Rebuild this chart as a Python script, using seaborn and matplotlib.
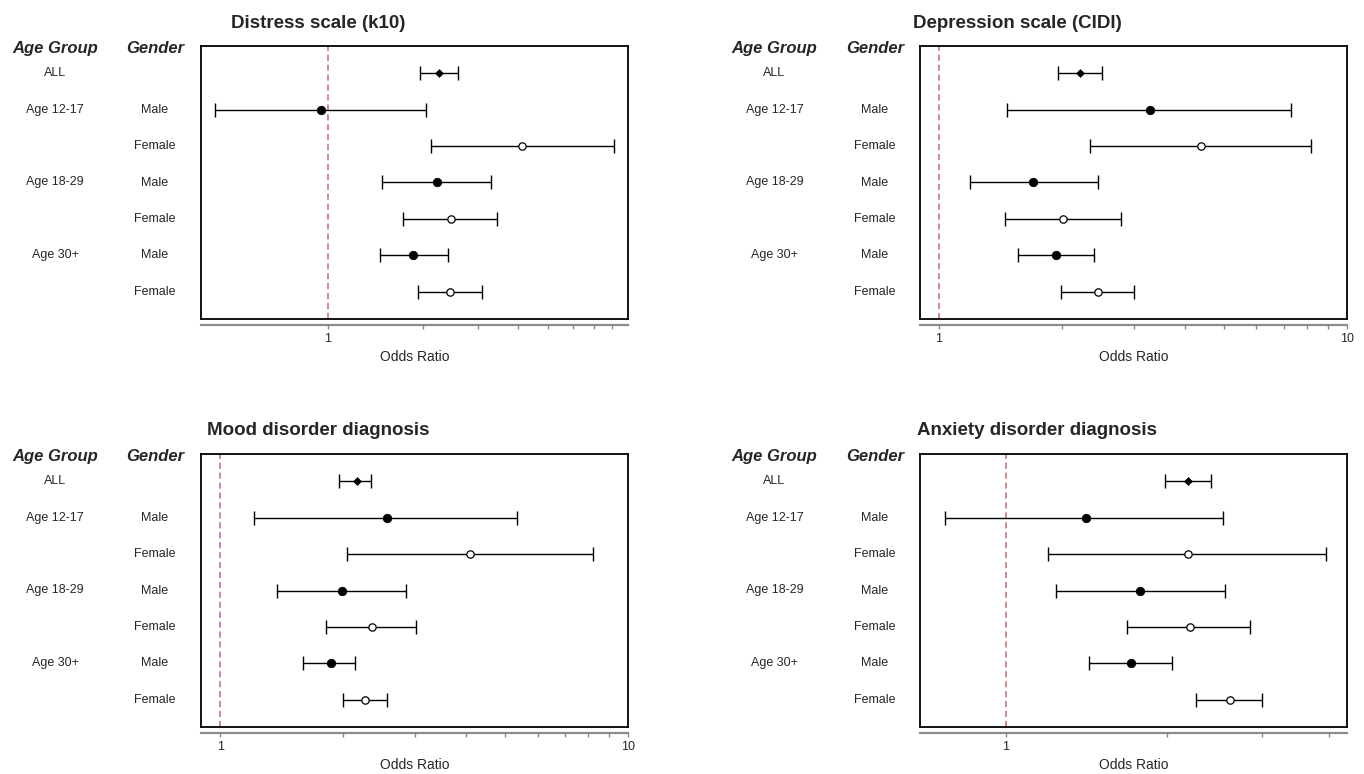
import seaborn as sns
import pandas as pd
import matplotlib.pyplot as plt
from matplotlib import transforms, ticker

# rows of every panel, top to bottom
age_labels = ["ALL", "Age 12-17", "", "Age 18-29", "", "Age 30+", ""]
gender_labels = ["", "Male", "Female", "Male", "Female", "Male", "Female"]
groups = ["ALL", "Male", "Female", "Male", "Female", "Male", "Female"]

titles = ["Distress scale (k10)", "Depression scale (CIDI)",
          "Mood disorder diagnosis", "Anxiety disorder diagnosis"]

# odds ratios with lower / upper confidence limits
k10_or = [2.26, 0.95, 4.13, 2.23, 2.46, 1.87, 2.45]
k10_lo = [1.96, 0.44, 2.12, 1.49, 1.74, 1.47, 1.94]
k10_hi = [2.60, 2.05, 8.11, 3.30, 3.44, 2.40, 3.08]

cidi_or = [2.22, 3.28, 4.39, 1.70, 2.01, 1.94, 2.45]
cidi_lo = [1.96, 1.47, 2.35, 1.19, 1.45, 1.56, 1.99]
cidi_hi = [2.51, 7.30, 8.16, 2.45, 2.79, 2.40, 3.01]

mood_or = [2.16, 2.56, 4.10, 1.99, 2.36, 1.87, 2.27]
mood_lo = [1.96, 1.21, 2.04, 1.38, 1.82, 1.60, 2.00]
mood_hi = [2.34, 5.35, 8.22, 2.85, 3.02, 2.14, 2.57]

anx_or = [2.19, 1.41, 2.19, 1.78, 2.20, 1.71, 2.62]
anx_lo = [1.98, 0.77, 1.20, 1.24, 1.68, 1.43, 2.26]
anx_hi = [2.41, 2.54, 3.95, 2.56, 2.85, 2.04, 3.00]

xlims = [(0.397, 8.96), (0.898, 10), (0.897, 10), (0.693, 4.32)]
minor_ticks = [2, 3, 4, 5, 6, 7, 8, 9]

sns.set_style("white")
plt.rcParams['font.family'] = ['Liberation Sans', 'DejaVu Sans']

W, H = 1364, 774
fig = plt.figure(figsize=(W / 100, H / 100), dpi=100)

# panel boxes in pixels: left, top, right, bottom
boxes = [(201, 46, 628, 319), (920, 46, 1347, 319),
         (201, 454, 628, 727), (920, 454, 1347, 727)]
title_x = [318, 1017, 318, 1037]
age_x = [55, 774.5, 55, 774.5]
gender_x = [155, 875, 155, 875]

panels = [(k10_or, k10_lo, k10_hi), (cidi_or, cidi_lo, cidi_hi),
          (mood_or, mood_lo, mood_hi), (anx_or, anx_lo, anx_hi)]

marker_styles = {
    "ALL": dict(marker="D", s=16, color="black", edgecolor="black", linewidth=0.5),
    "Male": dict(marker="o", s=38, color="black", edgecolor="black", linewidth=0.5),
    "Female": dict(marker="o", s=28, color="white", edgecolor="black", linewidth=0.9),
}

for i, (odds, lo, hi) in enumerate(panels):
    l, t, r, b = boxes[i]
    ax = fig.add_axes([l / W, 1 - b / H, (r - l) / W, (b - t) / H])
    df = pd.DataFrame({'row': range(7), 'odds': odds, 'lo': lo, 'hi': hi, 'group': groups})

    ax.axvline(1, color='#c96a6a', ls='--', lw=1.1, dashes=(4, 2.5), zorder=1)
    ax.errorbar(df['odds'], df['row'],
                xerr=[df['odds'] - df['lo'], df['hi'] - df['odds']],
                fmt='none', ecolor='black', elinewidth=1, capsize=5, capthick=1, zorder=2)
    for g, kw in marker_styles.items():
        sns.scatterplot(data=df[df['group'] == g], x='odds', y='row', ax=ax,
                        zorder=3, legend=False, **kw)

    ax.set_xscale('log')
    ax.set_xlim(*xlims[i])
    ax.set_ylim(6.75, -0.75)
    ax.set_yticks([])
    ax.set_ylabel('')
    ax.xaxis.set_major_locator(ticker.FixedLocator([1, 10]))
    ax.xaxis.set_major_formatter(ticker.FuncFormatter(lambda v, p: f'{v:g}'))
    ax.xaxis.set_minor_locator(ticker.FixedLocator(minor_ticks))
    ax.xaxis.set_minor_formatter(ticker.NullFormatter())
    ax.tick_params(axis='x', which='both', direction='out', length=3, width=1,
                   color='#888888', labelsize=9, pad=3, bottom=True)
    ax.set_xlabel('Odds Ratio', fontsize=10, labelpad=4)

    for side in ['top', 'left', 'right']:
        ax.spines[side].set_color('black')
        ax.spines[side].set_linewidth(1.3)
    ax.spines['bottom'].set_position(('outward', 4))
    ax.spines['bottom'].set_color('#8c8c8c')
    ax.spines['bottom'].set_linewidth(1.6)
    ax.plot([0, 1], [0, 0], transform=ax.transAxes, color='black', lw=1.3, clip_on=False)

    # row labels to the left of the box
    trans = transforms.blended_transform_factory(fig.transFigure, ax.transData)
    for k in range(7):
        ax.text(age_x[i] / W, k, age_labels[k], transform=trans, ha='center',
                va='center', fontsize=9)
        ax.text(gender_x[i] / W, k, gender_labels[k], transform=trans, ha='center',
                va='center', fontsize=9)
    htrans = transforms.blended_transform_factory(fig.transFigure, ax.transAxes)
    ax.text(age_x[i] / W, 0.99, 'Age Group', transform=htrans, ha='center', va='center',
            fontsize=12, fontweight='bold', fontstyle='italic')
    ax.text(gender_x[i] / W, 0.99, 'Gender', transform=htrans, ha='center', va='center',
            fontsize=12, fontweight='bold', fontstyle='italic')

    fig.text(title_x[i] / W, 1 - (t - 23) / H, titles[i], ha='center', va='center',
             fontsize=13.5, fontweight='bold')

fig.savefig('out.png', dpi=100)
